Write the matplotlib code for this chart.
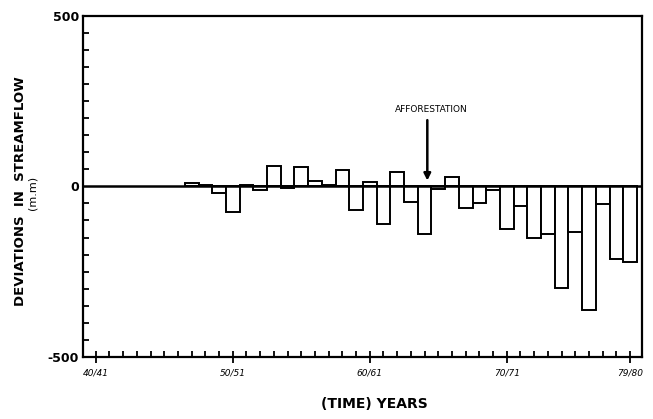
import matplotlib.pyplot as plt
from matplotlib.ticker import MultipleLocator, FixedLocator

# hydrological years, index = first year of the pair (47 -> 47/48)
years = list(range(47, 80))
deviation = [10, 4, -20, -75, 3, -12, 60, -4, 57, 17, 4, 47, -69, 14, -110, 43,
             -46, -140, -7, 28, -62, -50, -12, -125, -58, -150, -140, -298, -134,
             -362, -51, -213, -222]

tick_pos = [40, 50, 60, 70, 79]
tick_lab = ['40/41', '50/51', '60/61', '70/71', '79/80']

fig = plt.figure(figsize=(6.53, 4.19), dpi=100)
ax = fig.add_axes([0.1276, 0.148, 0.8551, 0.8145])

ax.bar(years, deviation, width=1.0, color='white', edgecolor='black', linewidth=1.4)
ax.axhline(0, color='black', linewidth=1.8, zorder=3)

ax.set_xlim(39.09, 79.85)
ax.set_ylim(-500, 500)

for s in ax.spines.values():
    s.set_linewidth(1.6)

ax.set_yticks([-500, 0, 500])
ax.set_yticklabels(['-500', '0', '500'], fontsize=9, fontweight='bold')
ax.yaxis.set_minor_locator(MultipleLocator(50))
ax.tick_params(axis='y', which='both', direction='in', length=4, width=1.3, pad=3)
ax.tick_params(axis='y', which='major', length=0)

ax.xaxis.set_major_locator(FixedLocator(tick_pos))
ax.set_xticklabels(tick_lab, fontsize=6.5, fontstyle='italic')
ax.xaxis.set_minor_locator(MultipleLocator(1))
ax.tick_params(axis='x', which='minor', direction='in', length=4, width=1.3)
ax.tick_params(axis='x', which='major', direction='inout', length=8, width=1.3, pad=4)

# afforestation marker
ax.text(64.5, 226, 'AFFORESTATION', ha='center', va='center', fontsize=6.5)
ax.annotate('', xy=(64.2, 17), xytext=(64.2, 194),
            arrowprops=dict(arrowstyle='-|>', color='black', lw=1.8,
                            shrinkA=0, shrinkB=0, mutation_scale=10))

fig.text(0.031, 0.545, 'DEVIATIONS  IN  STREAMFLOW', rotation=90,
         ha='center', va='center', fontsize=9.5, fontweight='bold')
fig.text(0.05, 0.54, '(m.m)', rotation=90, ha='center', va='center', fontsize=8)

fig.text(0.573, 0.035, '(TIME) YEARS', ha='center', va='center',
         fontsize=10, fontweight='bold')

fig.savefig('out.png', dpi=100)
